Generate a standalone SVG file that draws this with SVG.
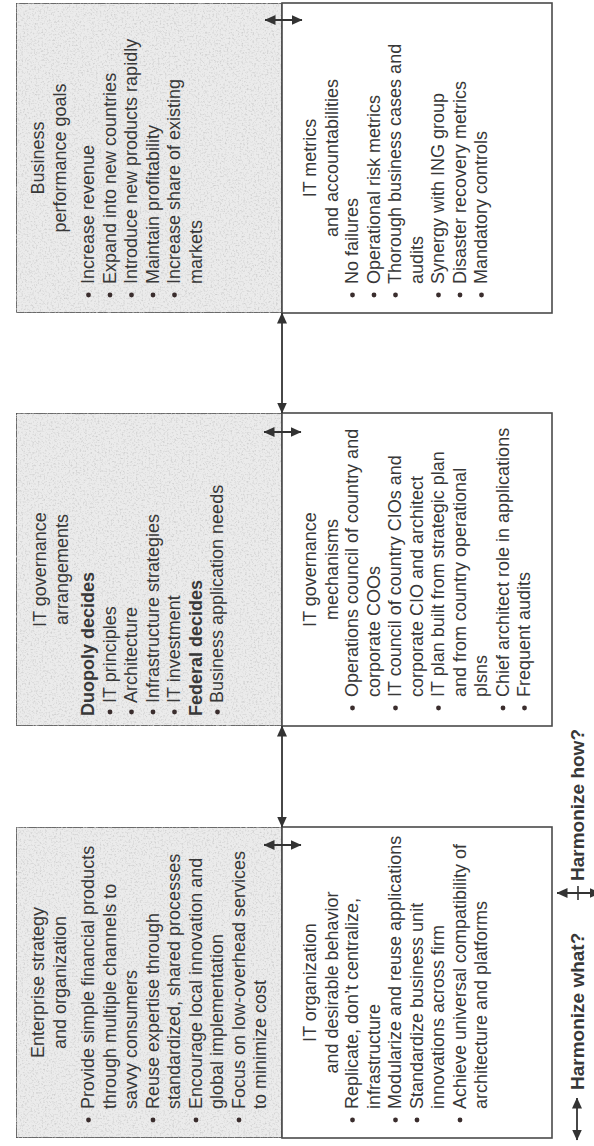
<svg xmlns="http://www.w3.org/2000/svg" width="594" height="1146" viewBox="0 0 594 1146">
  <defs>
    <style>
      .half{stroke:#4a4a4a;stroke-width:1.6}
      .shade{fill:#ebebeb;filter:url(#grain)}
      .plain{fill:#ffffff}
      text{font-family:"Liberation Sans",Arial,Helvetica,sans-serif;font-size:18px;fill:#383838}
      .t{text-anchor:middle}
      .b{font-weight:bold}
      .dot{fill:#3a2d2d}
      .conn{stroke:#333333;stroke-width:1.8;fill:none;marker-start:url(#ah);marker-end:url(#ah)}
      .tick{stroke:#333333;stroke-width:1.6}
      .leg{font-weight:bold;font-size:19px}
    </style>
    <!-- light speckle for the shaded halves -->
    <filter id="grain" x="0" y="0" width="100%" height="100%" color-interpolation-filters="sRGB">
      <feTurbulence type="fractalNoise" baseFrequency="0.55" numOctaves="3" seed="7" result="noise"/>
      <feColorMatrix in="noise" type="matrix" values="0 0 0 0 0.8  0 0 0 0 0.8  0 0 0 0 0.8  0 0 0 -2.5 1.25" result="spots"/>
      <feComposite in="spots" in2="SourceGraphic" operator="in" result="clipped"/>
      <feMerge><feMergeNode in="SourceGraphic"/><feMergeNode in="clipped"/></feMerge>
    </filter>
    <marker id="ah" viewBox="0 0 11 10" refX="10.5" refY="5" markerWidth="11" markerHeight="10" markerUnits="userSpaceOnUse" orient="auto-start-reverse">
      <path d="M0,0 L11,5 L0,10 z" fill="#333333"/>
    </marker>
  </defs>

  <!-- whole page is laid out sideways: reading frame 1146 wide, 594 tall -->
  <g transform="translate(0,1146) rotate(-90)">

    <!-- column 1 -->
    <g id="enterprise-strategy">
      <rect class="half shade" x="8" y="16" width="311" height="266"/>
      <text class="t" x="163.5" y="44">Enterprise strategy</text>
      <text class="t" x="163.5" y="66">and organization</text>
      <circle class="dot" cx="26" cy="88.5" r="2.4"/>
      <text x="37" y="94">Provide simple financial products</text>
      <text x="37" y="115.5">through multiple channels to</text>
      <text x="37" y="137">savvy consumers</text>
      <circle class="dot" cx="26" cy="153" r="2.4"/>
      <text x="37" y="158.5">Reuse expertise through</text>
      <text x="37" y="180">standardized, shared processes</text>
      <circle class="dot" cx="26" cy="196" r="2.4"/>
      <text x="37" y="201.5">Encourage local innovation and</text>
      <text x="37" y="223">global implementation</text>
      <circle class="dot" cx="26" cy="239" r="2.4"/>
      <text x="37" y="244.5">Focus on low-overhead services</text>
      <text x="37" y="266">to minimize cost</text>
    </g>

    <g id="it-organization">
      <rect class="half plain" x="8" y="282" width="311" height="270"/>
      <text class="t" x="163.5" y="316">IT organization</text>
      <text class="t" x="163.5" y="338">and desirable behavior</text>
      <circle class="dot" cx="26" cy="352.5" r="2.4"/>
      <text x="37" y="358">Replicate, don’t centralize,</text>
      <text x="37" y="379.5">infrastructure</text>
      <circle class="dot" cx="26" cy="395.5" r="2.4"/>
      <text x="37" y="401">Modularize and reuse applications</text>
      <circle class="dot" cx="26" cy="417" r="2.4"/>
      <text x="37" y="422.5">Standardize business unit</text>
      <text x="37" y="444">innovations across firm</text>
      <circle class="dot" cx="26" cy="460" r="2.4"/>
      <text x="37" y="465.5">Achieve universal compatibility of</text>
      <text x="37" y="487">architecture and platforms</text>
    </g>

    <!-- column 2 -->
    <g id="governance-arrangements">
      <rect class="half shade" x="420" y="16" width="313" height="266"/>
      <text class="t" x="576.5" y="46">IT governance</text>
      <text class="t" x="576.5" y="68">arrangements</text>
      <text class="b" x="430" y="94">Duopoly decides</text>
      <circle class="dot" cx="434" cy="110" r="2.4"/>
      <text x="443" y="115.5">IT principles</text>
      <circle class="dot" cx="434" cy="131.5" r="2.4"/>
      <text x="443" y="137">Architecture</text>
      <circle class="dot" cx="434" cy="153" r="2.4"/>
      <text x="443" y="158.5">Infrastructure strategies</text>
      <circle class="dot" cx="434" cy="174.5" r="2.4"/>
      <text x="443" y="180">IT investment</text>
      <text class="b" x="430" y="201.5">Federal decides</text>
      <circle class="dot" cx="434" cy="217.5" r="2.4"/>
      <text x="443" y="223">Business application needs</text>
    </g>

    <g id="governance-mechanisms">
      <rect class="half plain" x="420" y="282" width="313" height="270"/>
      <text class="t" x="576.5" y="316">IT governance</text>
      <text class="t" x="576.5" y="338">mechanisms</text>
      <circle class="dot" cx="438" cy="352.5" r="2.4"/>
      <text x="449" y="358">Operations council of country and</text>
      <text x="449" y="379.5">corporate COOs</text>
      <circle class="dot" cx="438" cy="395.5" r="2.4"/>
      <text x="449" y="401">IT council of country CIOs and</text>
      <text x="449" y="422.5">corporate CIO and architect</text>
      <circle class="dot" cx="438" cy="438.5" r="2.4"/>
      <text x="449" y="444">IT plan built from strategic plan</text>
      <text x="449" y="465.5">and from country operational</text>
      <text x="449" y="487">plsns</text>
      <circle class="dot" cx="438" cy="503" r="2.4"/>
      <text x="449" y="508.5">Chief architect role in applications</text>
      <circle class="dot" cx="438" cy="524.5" r="2.4"/>
      <text x="449" y="530">Frequent audits</text>
    </g>

    <!-- column 3 -->
    <g id="business-goals">
      <rect class="half shade" x="833" y="16" width="310" height="266"/>
      <text class="t" x="988" y="44">Business</text>
      <text class="t" x="988" y="66">performance goals</text>
      <circle class="dot" cx="851" cy="88.5" r="2.4"/>
      <text x="862" y="94">Increase revenue</text>
      <circle class="dot" cx="851" cy="110" r="2.4"/>
      <text x="862" y="115.5">Expand into new countries</text>
      <circle class="dot" cx="851" cy="131.5" r="2.4"/>
      <text x="862" y="137">Introduce new products rapidly</text>
      <circle class="dot" cx="851" cy="153" r="2.4"/>
      <text x="862" y="158.5">Maintain profitability</text>
      <circle class="dot" cx="851" cy="174.5" r="2.4"/>
      <text x="862" y="180">Increase share of existing</text>
      <text x="862" y="201.5">markets</text>
    </g>

    <g id="it-metrics">
      <rect class="half plain" x="833" y="282" width="310" height="270"/>
      <text class="t" x="988" y="316">IT metrics</text>
      <text class="t" x="988" y="338">and accountabilities</text>
      <circle class="dot" cx="851" cy="352.5" r="2.4"/>
      <text x="862" y="358">No failures</text>
      <circle class="dot" cx="851" cy="374" r="2.4"/>
      <text x="862" y="379.5">Operational risk metrics</text>
      <circle class="dot" cx="851" cy="395.5" r="2.4"/>
      <text x="862" y="401">Thorough business cases and</text>
      <text x="862" y="422.5">audits</text>
      <circle class="dot" cx="851" cy="438.5" r="2.4"/>
      <text x="862" y="444">Synergy with ING group</text>
      <circle class="dot" cx="851" cy="460" r="2.4"/>
      <text x="862" y="465.5">Disaster recovery metrics</text>
      <circle class="dot" cx="851" cy="481.5" r="2.4"/>
      <text x="862" y="487">Mandatory controls</text>
    </g>

    <!-- two-way links: across columns (what) and across halves (how) -->
    <g id="connectors">
      <line class="conn" x1="319" y1="282" x2="420" y2="282"/>
      <line class="conn" x1="733" y1="282" x2="833" y2="282"/>
      <line class="conn" x1="301" y1="264" x2="301" y2="301"/>
      <line class="conn" x1="714" y1="264" x2="714" y2="301"/>
      <line class="conn" x1="1126" y1="265" x2="1126" y2="302"/>
    </g>

    <g id="legend">
      <line class="conn" x1="6" y1="577" x2="48" y2="577"/>
      <text class="leg" x="56" y="584">Harmonize what?</text>
      <line class="conn" x1="253" y1="557" x2="253" y2="600"/>
      <line class="tick" x1="246" y1="578" x2="260" y2="578"/>
      <text class="leg" x="265" y="584">Harmonize how?</text>
    </g>
  </g>
</svg>
